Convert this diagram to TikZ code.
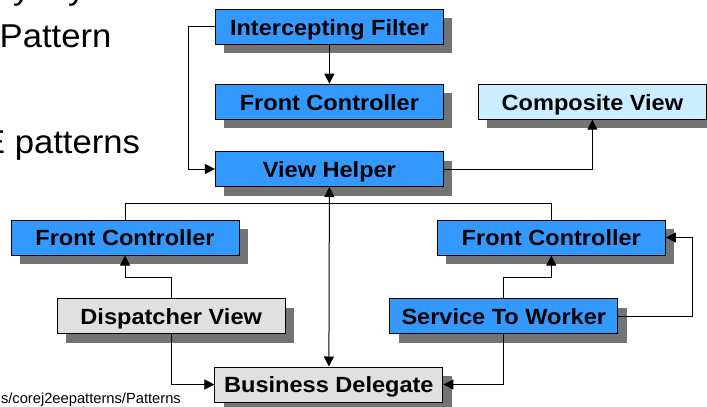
\documentclass[tikz,border=0pt]{standalone}
\usepackage{fontspec}
\setmainfont{Liberation Sans}
\newfontfamily\boxfont[FakeStretch=1.07]{Liberation Sans}
\newfontfamily\slidefont[FakeStretch=1.05]{Liberation Sans}
\usetikzlibrary{shadows,arrows.meta}
\definecolor{patblue}{HTML}{3399FF}
\definecolor{patlight}{HTML}{CCECFF}
\definecolor{patgray}{HTML}{E0E0E0}
\definecolor{patshadow}{HTML}{737373}
\tikzset{
  pattern box/.style={draw=black, line width=1pt, minimum width=228pt, minimum height=35pt,
    inner sep=0pt, text height=16.6pt, text depth=0pt,
    font=\boxfont\bfseries\fontsize{22}{26}\selectfont,
    general shadow={shadow xshift=9pt, shadow yshift=-9pt, fill=patshadow}},
  bluebox/.style={pattern box, fill=patblue},
  lightbox/.style={pattern box, fill=patlight},
  graybox/.style={pattern box, fill=patgray},
  link/.style={draw=black, line width=1pt},
  arr/.style={link, -{Triangle[length=10pt,width=10pt]}},
  darr/.style={link, {Triangle[length=10pt,width=10pt]}-{Triangle[length=10pt,width=10pt]}},
  slidetext/.style={inner sep=0pt, font=\slidefont\fontsize{33}{38}\selectfont}
}
\begin{document}
\begin{tikzpicture}[x=1pt,y=-1pt]
\useasboundingbox (0,0) rectangle (707,407);
\clip (0,0) rectangle (707,407);

% text of the slide behind the diagram
\node[slidetext, anchor=base west] (ytail1) at (13,-1) {y};
\node[slidetext, anchor=base west] (ytail2) at (68,-1) {y};
\node[slidetext, anchor=base west] (pattern) at (-0.5,47.7) {Pattern};
\node[slidetext, anchor=base west] (patterns) at (-18.1,153.3) {E patterns};
\node[inner sep=0pt, anchor=base east, font=\fontsize{14.7}{17}\selectfont] (url) at (181,403) {s/corej2eepatterns/Patterns};

% pattern boxes
\node[bluebox]  (if)  at (329.4,26.8)  {Intercepting Filter};
\node[bluebox]  (fc)  at (329.4,101.7) {Front Controller};
\node[lightbox] (cv)  at (592.4,101.7) {Composite View};
\node[bluebox]  (vh)  at (329.4,169)   {View Helper};
\node[bluebox]  (fcl) at (125,237.5)   {Front Controller};
\node[bluebox]  (fcr) at (551.3,237.5) {Front Controller};
\node[graybox]  (dv)  at (171.2,316.3) {Dispatcher View};
\node[bluebox]  (stw) at (503.8,316.3) {Service To Worker};
\node[graybox]  (bd)  at (328.9,384.5) {Business Delegate};

% bend points
\coordinate (ifbend) at (188.3,26.8);
\coordinate (bus) at (329.4,203.3);
\coordinate (dvbend) at (171.2,277.3);
\coordinate (stwbend) at (503.8,277.3);
\coordinate (stwright) at (692.3,316.3);

% connectors
\draw[arr] (if.south) -- (fc.north);
\draw[arr] (if.west) -- (ifbend) |- (vh.west);
\draw[arr] (vh.east) -| (cv.south);
\draw[darr] (vh.south) -- (bd.north);
\draw[link] (fcl.north) |- (bus) -| (fcr.north);
\draw[arr] (dv.north) -- (dvbend) -| (fcl.south);
\draw[arr] (dv.south) |- (bd.west);
\draw[arr] (stw.north) -- (stwbend) -| (fcr.south);
\draw[arr] (stw.east) -- (stwright) |- (fcr.east);
\draw[arr] (stw.south) |- (bd.east);
\end{tikzpicture}
\end{document}
